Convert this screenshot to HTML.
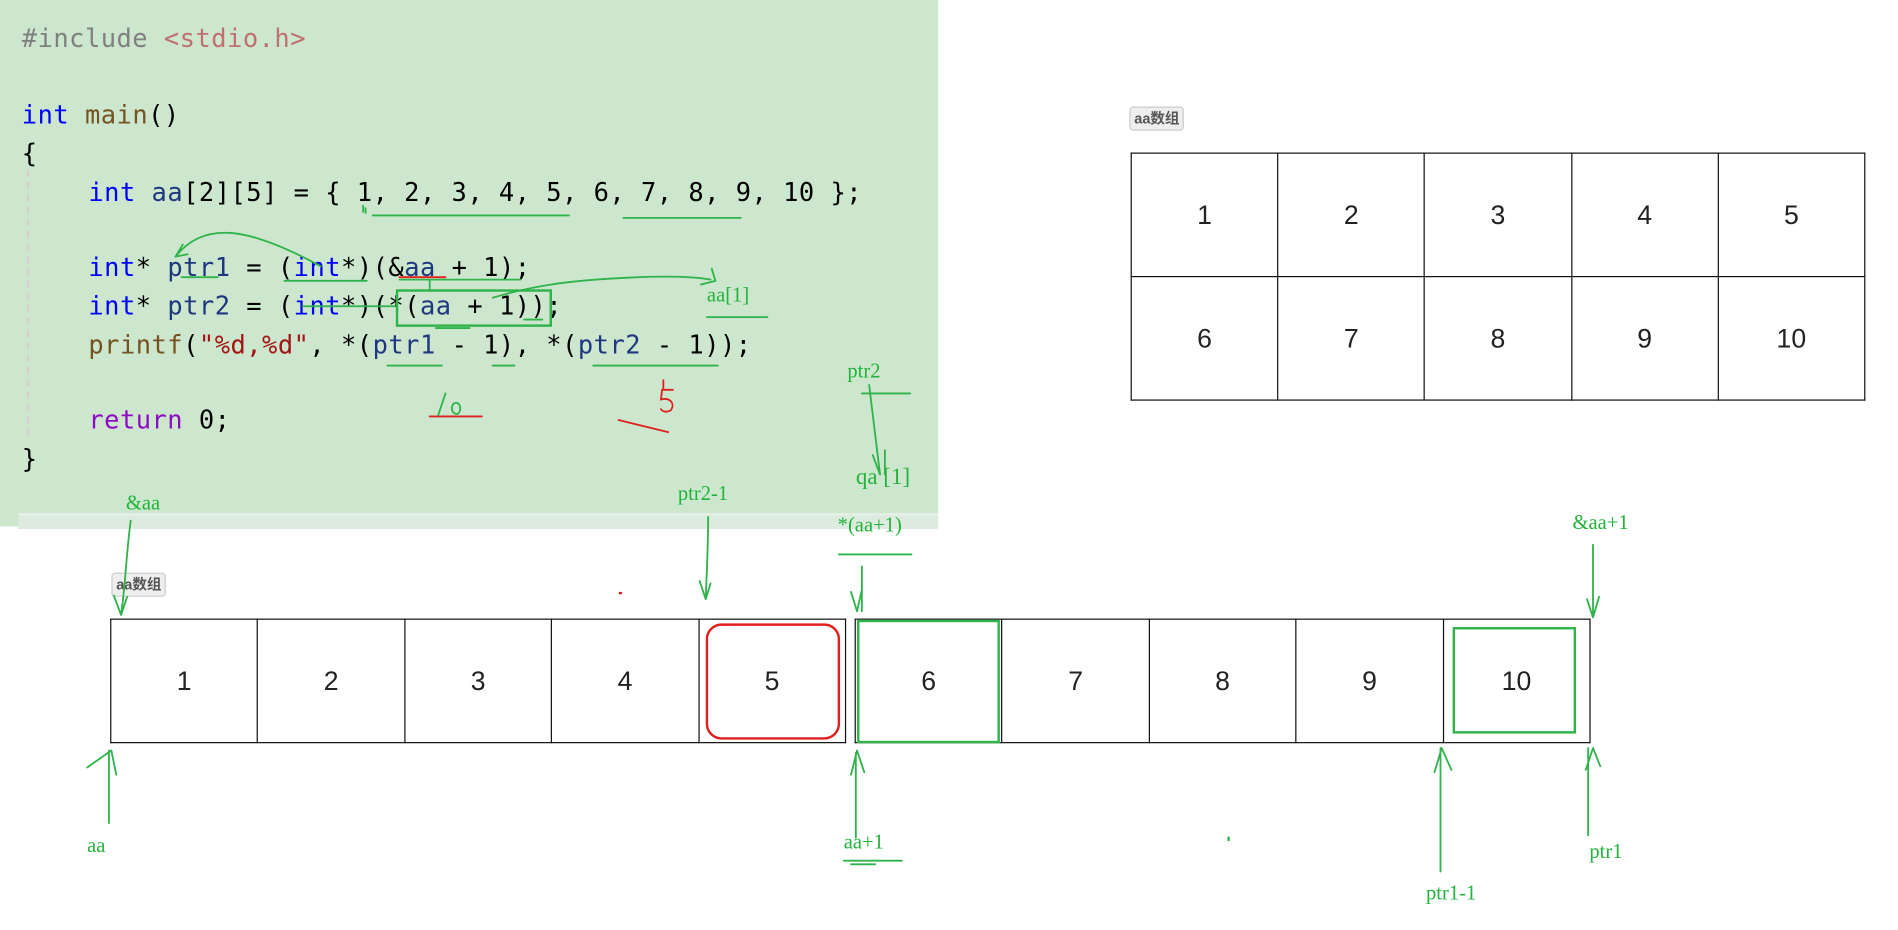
<!DOCTYPE html>
<html><head><meta charset="utf-8"><style>
html,body{margin:0;padding:0;background:#fff;width:1898px;height:930px;overflow:hidden}
#w{position:absolute;left:0;top:0;width:1568px;height:768px;transform:scale(1.2105);transform-origin:0 0}
.code{position:absolute;left:0;top:0;width:775px;height:435px;background:#cde7cf}
.strip{position:absolute;left:15px;top:424px;width:760px;height:11px;background:#dcebdd;border-top:2px solid #e6eee8}
.ln{position:absolute;font-family:"DejaVu Sans Mono","Liberation Mono",monospace;font-size:21px;letter-spacing:0.4px;white-space:pre;color:#000;line-height:26px}
.k{color:#0000ff}.f{color:#74531f}.v{color:#1f377f}.s{color:#a31515}.p{color:#8f08c4}.g{color:#808080}
.tag{position:absolute;font-family:"Liberation Sans","Noto Sans CJK SC",sans-serif;font-size:12px;font-weight:bold;color:#555;background:#eee;border:1px solid #ccc;border-radius:3px;padding:1px 3px;line-height:16px}
table{position:absolute;border-collapse:collapse;table-layout:fixed}
td{border:1px solid #111;text-align:center;font-family:"Liberation Sans",sans-serif;font-size:22px;color:#222;padding:0}
.a{position:absolute;font-family:"Liberation Serif",serif;font-size:17px;color:#22b33a;white-space:pre}
</style></head><body><div id="w">
<div class="code"></div><div class="strip"></div>
<div style="position:absolute;left:22px;top:140px;height:220px;border-left:2px dashed #d6d0d0"></div>
<div class="ln g" style="left:18px;top:19px">#include <span style="color:#c07070">&lt;stdio.h&gt;</span></div>
<div class="ln" style="left:18px;top:82px"><span class="k">int</span> <span class="f">main</span>()</div>
<div class="ln" style="left:18px;top:114px">{</div>
<div class="ln" style="left:73px;top:146px"><span class="k">int</span> <span class="v">aa</span>[2][5] = { 1, 2, 3, 4, 5, 6, 7, 8, 9, 10 };</div>
<div class="ln" style="left:73px;top:208px"><span class="k">int</span>* <span class="v">ptr1</span> = (<span class="k">int</span>*)(&amp;<span class="v">aa</span> + 1);</div>
<div class="ln" style="left:73px;top:240px"><span class="k">int</span>* <span class="v">ptr2</span> = (<span class="k">int</span>*)(*(<span class="v">aa</span> + 1));</div>
<div class="ln" style="left:73px;top:272px"><span class="f">printf</span>(<span class="s">"%d,%d"</span>, *(<span class="v">ptr1</span> - 1), *(<span class="v">ptr2</span> - 1));</div>
<div class="ln" style="left:73px;top:334px"><span class="p">return</span> 0;</div>
<div class="ln" style="left:18px;top:366px">}</div>

<div class="tag" style="left:933px;top:88px">aa数组</div>
<table style="left:934px;top:126px;width:607px;height:205px">
<tr><td>1</td><td>2</td><td>3</td><td>4</td><td>5</td></tr>
<tr><td>6</td><td>7</td><td>8</td><td>9</td><td>10</td></tr></table>

<div class="tag" style="left:92px;top:473px">aa数组</div>
<table style="left:91px;top:511px;width:608px;height:103px"><tr><td>1</td><td>2</td><td>3</td><td>4</td><td>5</td></tr></table>
<table style="left:706px;top:511px;width:608px;height:103px"><tr><td>6</td><td>7</td><td>8</td><td>9</td><td>10</td></tr></table>

<div class="a" style="left:104px;top:406px">&amp;aa</div>
<div class="a" style="left:560px;top:398px">ptr2-1</div>
<div class="a" style="left:700px;top:297px">ptr2</div>
<div class="a" style="left:692px;top:424px">*(aa+1)</div>
<div class="a" style="left:1299px;top:422px">&amp;aa+1</div>
<div class="a" style="left:72px;top:689px">aa</div>
<div class="a" style="left:697px;top:686px">aa+1</div>
<div class="a" style="left:1178px;top:728px">ptr1-1</div>
<div class="a" style="left:1313px;top:694px">ptr1</div>
<div class="a" style="left:584px;top:234px">aa[1]</div>
<div class="a" style="left:707px;top:384px;font-size:19px">qa [1]</div>

<svg width="1568" height="768" style="position:absolute;left:0;top:0" fill="none" stroke-linecap="round">
<g stroke="#2fb34a" stroke-width="1.5">
<path d="M308 178H470M515 180H612M300 170v5M302 172v4"/>
<path d="M145 212 C170 180 210 190 265 220"/><path d="M145 212l6-10M145 212l10-2"/>
<path d="M150 229h30M235 232h68M330 231h100M355 231v8"/>
<path d="M250 253H326"/>
<path d="M407 246C440 236 470 232 507 230 C540 228 570 228 587 231M588 222l3 10-12 3"/>
<rect x="328" y="240" width="127" height="29" stroke-width="2"/>
<path d="M360 271h28M433 264h15M320 302h45M407 302h18M490 302h103M584 262h50"/>
<path d="M108 430C104 460 104 480 100 508M100 508l-6-16M100 508l5-15"/>
<path d="M585 427C585 450 584 470 583 495M583 495l-5-15M583 495l4-13"/>
<path d="M712 325H752M718 318L727 392M721 376l6 16M731 372V392"/>
<path d="M693 458h60"/>
<path d="M712 468V505M708 505l-5-16M708 505l4-18"/>
<path d="M1316 450V510M1316 510l-5-15M1316 510l5-17"/>
<path d="M90 680V620M92 620l-20 14M92 620l4 20"/>
<path d="M707 692V622M708 620l-5 20M708 620l6 18"/>
<path d="M697 711h48M703 714h20"/>
<path d="M1190 720V618M1191 618l-6 20M1191 618l8 18"/>
<path d="M1312 690V618M1316 618l-6 18M1316 618l6 15"/>
</g>
<g stroke="#2fb34a" stroke-width="2">
<rect x="709" y="513" width="116" height="100"/>
<rect x="1201" y="519" width="100" height="86"/>
</g>
<rect x="584" y="516" width="109" height="94" rx="12" stroke="#e02020" stroke-width="2"/>
<g stroke="#e02020" stroke-width="1.5">
<path d="M330 229h38M355 344h43M511 347l41 10M548 314v8M556 322h-9l-1 8c8-2 12 4 8 9-3 2-7 1-8-1"/>
</g>
<g stroke="#2fb34a" stroke-width="1.5"><path d="M368 325l-6 18M378 333c-5-2-7 8-1 9c4 0 4-8 1-9"/></g>
<path d="M512 490h1" stroke="#e02020" stroke-width="2"/>
<path d="M1015 692v2" stroke="#2fb34a" stroke-width="2"/>
</svg>
</div></body></html>
